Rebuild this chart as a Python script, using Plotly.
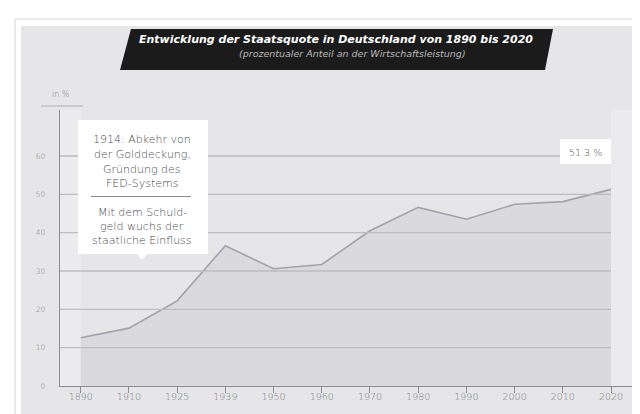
import plotly.graph_objects as go

# ---- data ----
years = ["1890", "1910", "1925", "1939", "1950", "1960", "1970", "1980", "1990", "2000", "2010", "2020"]
staatsquote = [12.6, 15.1, 22.2, 36.6, 30.6, 31.7, 40.5, 46.6, 43.5, 47.4, 48.1, 51.3]
y_ticks = [0, 10, 20, 30, 40, 50, 60]
grid_levels = [10, 20, 30, 40, 50, 60]

title_text = "Entwicklung der Staatsquote in Deutschland von 1890 bis 2020"
subtitle_text = "(prozentualer Anteil an der Wirtschaftsleistung)"
box_lines_top = ["1914: Abkehr von", "der Golddeckung,", "Gründung des", "FED-Systems"]
box_lines_bottom = ["Mit dem Schuld-", "geld wuchs der", "staatliche Einfluss"]
last_label = "51.3 %"
unit_label = "in %"

# ---- layout geometry ----
W_PX, H_PX = 640, 414
L, R, T, B = 52, 10, 102, 36
PW, PH = W_PX - L - R, H_PX - T - B


def px(x):
    return (x - L) / PW


def py(y):
    return (H_PX - B - y) / PH


FONT = "DejaVu Sans"
x_idx = list(range(len(years)))

fig = go.Figure()
fig.add_trace(go.Scatter(
    x=x_idx, y=staatsquote, mode="lines",
    line=dict(color="#a2a2a8", width=1.6),
    fill="tozeroy", fillcolor="#d9d9de",
    hoverinfo="skip", showlegend=False,
))

shapes = []
# outer border and panel
shapes.append(dict(type="rect", xref="paper", yref="paper", x0=px(7), x1=px(660), y0=py(11), y1=py(430),
                   line=dict(color="#d2d2d4", width=1), fillcolor="white", layer="below"))
shapes.append(dict(type="rect", xref="paper", yref="paper", x0=px(13), x1=px(660), y0=py(18), y1=py(430),
                   line=dict(width=0), fillcolor="#e6e6e9", layer="below"))
# lighter strips left of first / right of last category
shapes.append(dict(type="rect", xref="x", yref="paper", x0=-0.43, x1=0, y0=0, y1=1,
                   line=dict(width=0), fillcolor="#ececee", layer="below"))
shapes.append(dict(type="rect", xref="x", yref="paper", x0=11, x1=11.56, y0=0, y1=1,
                   line=dict(width=0), fillcolor="#ebebee", layer="below"))
# gridlines
for g in grid_levels:
    shapes.append(dict(type="line", xref="x", yref="y", x0=-0.43, x1=11, y0=g, y1=g,
                       line=dict(color="#bcbcc1", width=1.3), layer="above"))
# title parallelogram
path = "M {},{} L {},{} L {},{} L {},{} Z".format(px(123), py(21), px(545), py(21), px(537), py(62), px(112), py(62))
shapes.append(dict(type="path", xref="paper", yref="paper", path=path,
                   fillcolor="#1c1b1c", line=dict(width=0), layer="above"))
# unit label underline
shapes.append(dict(type="line", xref="paper", yref="paper", x0=px(33), x1=px(75), y0=py(98), y1=py(98),
                   line=dict(color="#b0b0b4", width=1), layer="above"))
# annotation box with pointer
box_path = "M {},{} L {},{} L {},{} L {},{} L {},{} L {},{} L {},{} Z".format(
    px(70), py(112), px(200), py(112), px(200), py(246), px(139), py(246),
    px(134), py(252), px(129), py(246), px(70), py(246))
shapes.append(dict(type="path", xref="paper", yref="paper", path=box_path,
                   fillcolor="white", line=dict(width=0), layer="above"))
shapes.append(dict(type="line", xref="paper", yref="paper", x0=px(83), x1=px(183), y0=py(188.5), y1=py(188.5),
                   line=dict(color="#8a8a8e", width=1), layer="above"))
# last value box
shapes.append(dict(type="rect", xref="paper", yref="paper", x0=px(552), x1=px(603), y0=py(131), y1=py(156),
                   fillcolor="white", line=dict(width=0), layer="above"))

annotations = []
annotations.append(dict(xref="paper", yref="paper", x=px(328), y=py(31.5), text="<b><i>" + title_text + "</i></b>",
                        showarrow=False, font=dict(family=FONT, size=11, color="white"),
                        xanchor="center", yanchor="middle"))
annotations.append(dict(xref="paper", yref="paper", x=px(344), y=py(45.5), text="<i>" + subtitle_text + "</i>",
                        showarrow=False, font=dict(family=FONT, size=9.5, color="#b8b8b8", weight=300),
                        xanchor="center", yanchor="middle"))
annotations.append(dict(xref="paper", yref="paper", x=px(52), y=py(86.5), text=unit_label,
                        showarrow=False, font=dict(family=FONT, size=8, color="#7c7c80", weight=300),
                        xanchor="center", yanchor="middle"))
for i, line in enumerate(box_lines_top):
    annotations.append(dict(xref="paper", yref="paper", x=px(134), y=py(131.5 + i * 14.8), text=line,
                            showarrow=False, font=dict(family=FONT, size=11, color="#48484c", weight=300),
                            xanchor="center", yanchor="middle"))
for i, line in enumerate(box_lines_bottom):
    annotations.append(dict(xref="paper", yref="paper", x=px(134), y=py(204 + i * 14.4), text=line,
                            showarrow=False, font=dict(family=FONT, size=11, color="#48484c", weight=300),
                            xanchor="center", yanchor="middle"))
annotations.append(dict(xref="paper", yref="paper", x=px(577.5), y=py(144), text=last_label,
                        showarrow=False, font=dict(family=FONT, size=9.5, color="#48484c", weight=300),
                        xanchor="center", yanchor="middle"))

fig.update_layout(
    width=W_PX, height=H_PX,
    margin=dict(l=L, r=R, t=T, b=B),
    paper_bgcolor="white", plot_bgcolor="rgba(0,0,0,0)",
    shapes=shapes, annotations=annotations,
    showlegend=False,
    xaxis=dict(range=[-0.43, 11.56], tickmode="array", tickvals=x_idx, ticktext=years,
               showgrid=False, zeroline=False, showline=True, linecolor="#8c8c90", linewidth=1.2,
               ticks="outside", ticklen=6, tickcolor="#8c8c90", tickwidth=1,
               tickfont=dict(family=FONT, size=9.5, color="#7c7c80", weight=300), ticklabelstandoff=-5,
               fixedrange=True),
    yaxis=dict(range=[0, 72], tickmode="array", tickvals=y_ticks, ticktext=[str(v) for v in y_ticks],
               showgrid=False, zeroline=False, showline=True, linecolor="#8c8c90", linewidth=1.2,
               ticks="", tickfont=dict(family=FONT, size=7.5, color="#7c7c80", weight=300), ticklabelstandoff=12,
               fixedrange=True),
)

fig.write_html("out.html")
